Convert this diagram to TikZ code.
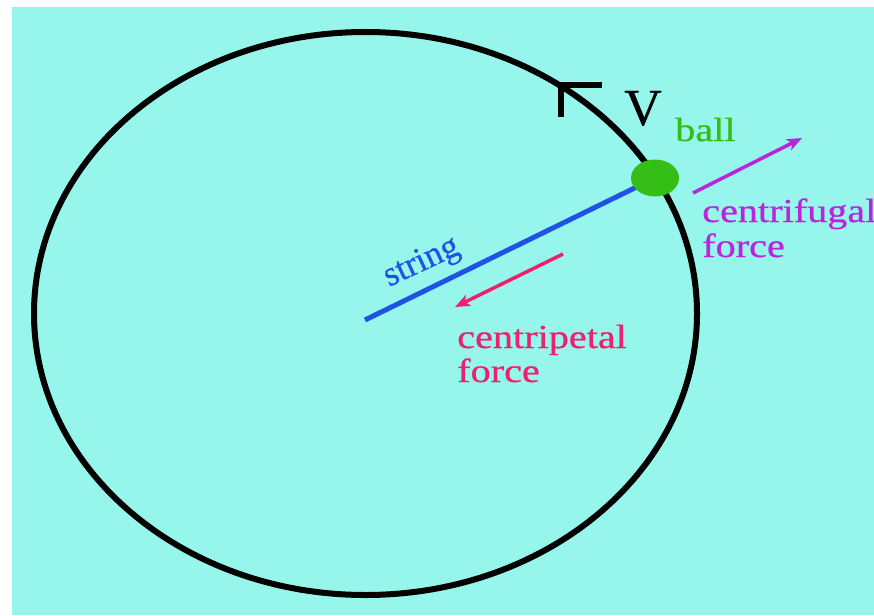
\documentclass[tikz,border=0pt]{standalone}
\usepackage{fontspec}
\setmainfont{Liberation Serif}
\newfontfamily\lblfont[FakeBold=0.6]{Liberation Serif}
\usetikzlibrary{arrows.meta,shapes.geometric}
\definecolor{bgcyan}{RGB}{150,246,236}
\definecolor{ballgreen}{RGB}{52,190,22}
\definecolor{stringblue}{RGB}{32,82,230}
\definecolor{cppink}{RGB}{238,32,110}
\definecolor{cfpurple}{RGB}{186,36,220}
\tikzset{
  lbl/.style={inner sep=0pt, font=\lblfont\fontsize{33.5}{36}\selectfont, xscale=1.2},
  force/.style={line width=3.5pt, -{Stealth[length=15pt,width=12pt,inset=4pt]}},
}
\begin{document}
\begin{tikzpicture}[x={(1pt,0)}, y={(0,-1pt)}]
\useasboundingbox (0,0) rectangle (874,615);
\fill[bgcyan] (12,7) rectangle (874,615);
% orbit
\draw[line width=6pt] (365.5,313.5) ellipse [x radius=331.5, y radius=281.5];
% velocity chevron
\draw[line width=6pt, line join=miter] (602,85) -- (561,85) -- (561,117);
% string and ball
\coordinate (ctr) at (365,320);
\coordinate (bc) at (655,178);
\draw[stringblue, line width=5pt] (ctr) -- (bc);
\node[ellipse, fill=ballgreen, minimum width=48pt, minimum height=37pt, inner sep=0pt] (ball) at (bc) {};
% forces
\coordinate (cpA) at (563,254);
\coordinate (cpB) at (455,307);
\draw[force, cppink] (cpA) -- (cpB);
\coordinate (cfA) at (693,193);
\coordinate (cfB) at (802,138);
\draw[force, cfpurple] (cfA) -- (cfB);
% labels
\node[inner sep=0pt, anchor=base west, font=\lblfont\fontsize{52}{54}\selectfont] (V) at (624,125) {V};
\node[lbl, anchor=base west, text=ballgreen] (balllbl) at (675,141) {ball};
\node[inner sep=0pt, font=\lblfont\fontsize{35}{36}\selectfont, anchor=base west, text=stringblue, rotate=25] (str) at (389,287) {string};
\node[lbl, anchor=base west, text=cppink] (cp1) at (457,348) {centripetal};
\node[lbl, anchor=base west, text=cppink] (cp2) at (457,382) {force};
\node[lbl, anchor=base west, text=cfpurple] (cf1) at (702,222) {centrifugal};
\node[lbl, anchor=base west, text=cfpurple] (cf2) at (702,257) {force};
\end{tikzpicture}
\end{document}
